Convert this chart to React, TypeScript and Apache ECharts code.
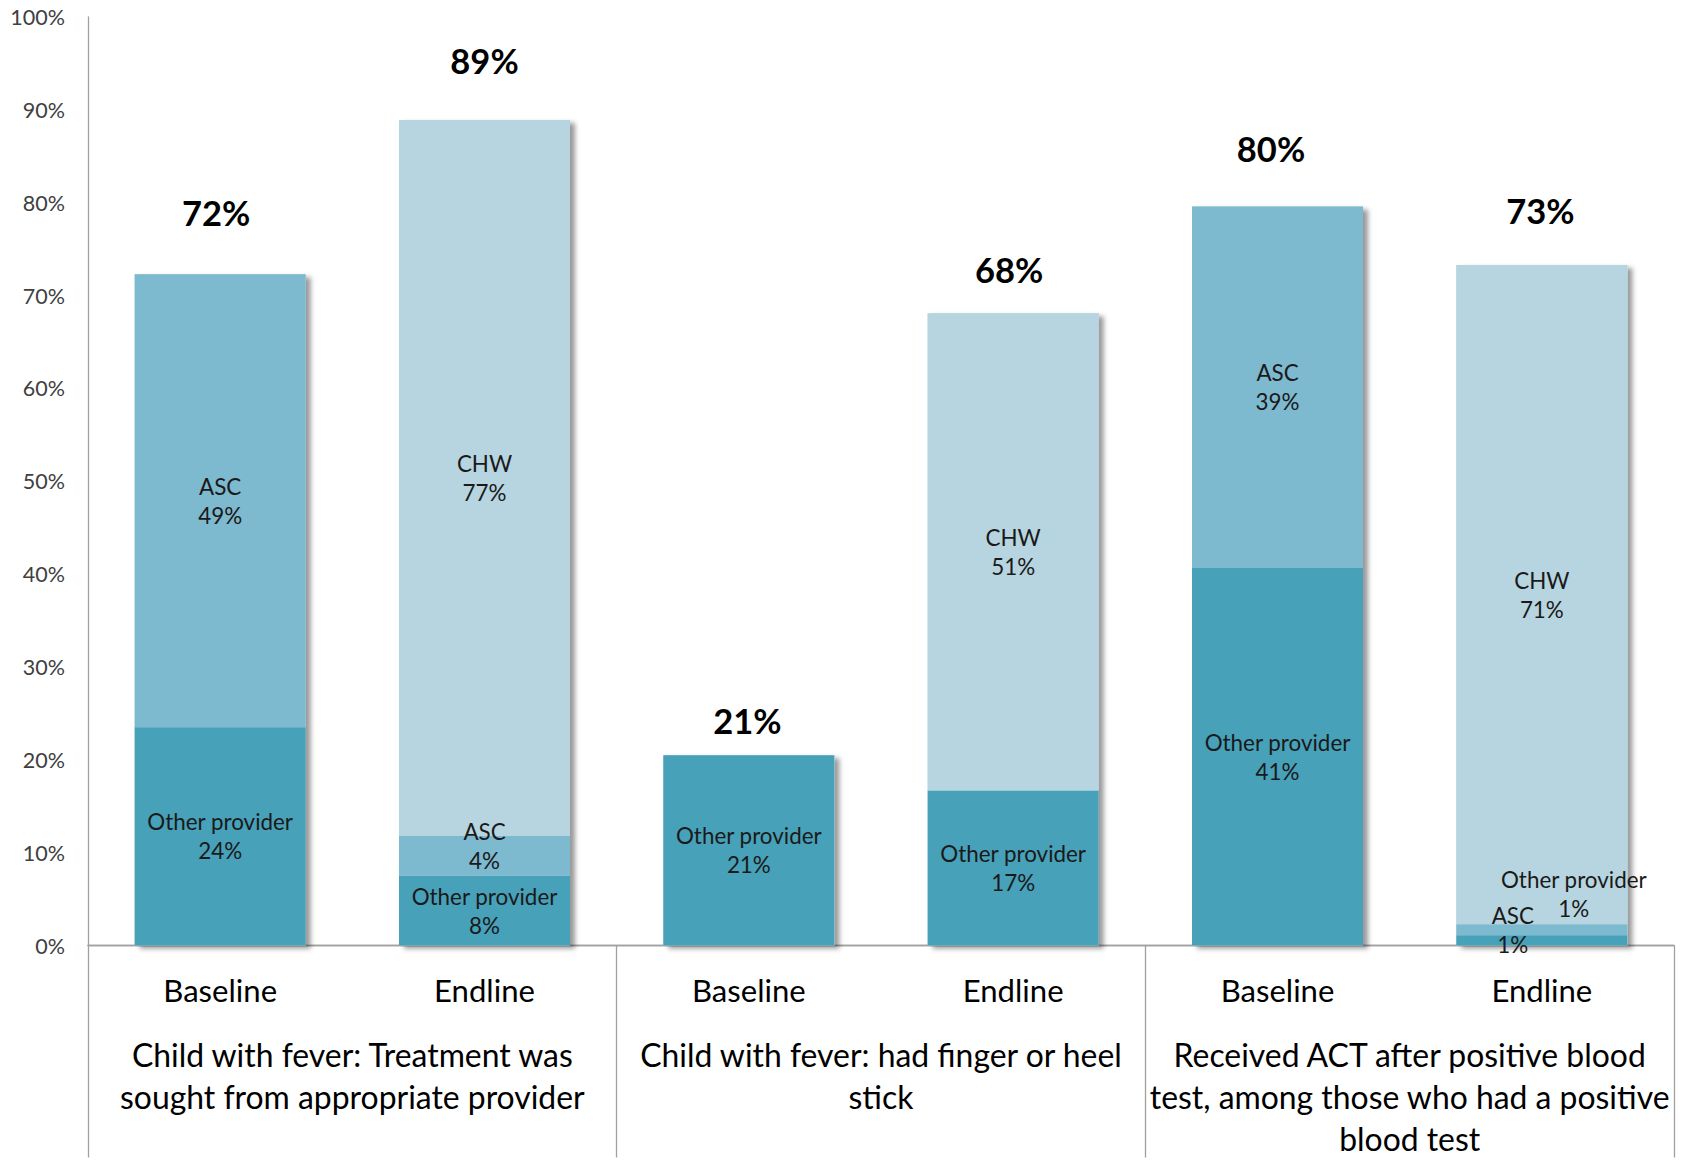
import React, { useEffect, useRef } from "react";
import * as echarts from "echarts";

const periods = ["Baseline", "Endline", "Baseline", "Endline", "Baseline", "Endline"];
const groups = [
  "Child with fever: Treatment was sought from appropriate provider",
  "Child with fever: had finger or heel stick",
  "Received ACT after positive blood test, among those who had a positive blood test",
];
const otherProvider = [23.5, 7.5, 20.5, 16.7, 40.7, 1.1];
const asc = [48.8, 4.3, null, null, 38.9, 1.2];
const chw = [null, 77.1, null, 51.4, null, 71.0];
const yTicks = [0, 10, 20, 30, 40, 50, 60, 70, 80, 90, 100];

// layout helpers (not data)
const groupLines: Record<string, string> = {
  [groups[0]]: "Child with fever: Treatment was\nsought from appropriate provider",
  [groups[1]]: "Child with fever: had finger or heel\nstick",
  [groups[2]]: "Received ACT after positive blood\ntest, among those who had a positive\nblood test",
};
const totalOffsets = [
  [-4, -62],
  [0, -59.5],
  [-1.5, -35],
  [-4, -44],
  [-6.5, -58],
  [-1.5, -54],
];
const otherOffsets: Record<number, number[]> = { 5: [32, -46] };
const ascOffsets: Record<number, number[]> = { 1: [0, -10], 5: [-29, 0] };

const FONT = "Lato";
const C_OTHER = "#47A1B9";
const C_ASC = "#7DB9CF";
const C_CHW = "#B7D5E0";

function segData(values: (number | null)[], offsets: Record<number, number[]>) {
  return values.map((v, i) =>
    offsets[i] ? { value: v, label: { offset: offsets[i] } } : { value: v }
  );
}

export default function App() {
  const ref = useRef<HTMLDivElement>(null);
  useEffect(() => {
    if (!ref.current) return;
    const chart = echarts.init(ref.current, undefined, { renderer: "svg" });
    const totals = periods.map(
      (_, i) => (otherProvider[i] || 0) + (asc[i] || 0) + (chw[i] || 0)
    );
    const segLabel = {
      show: true,
      position: "inside",
      fontFamily: FONT,
      fontSize: 22.4,
      lineHeight: 29,
      color: "#1a1a1a",
      formatter: (p: any) => `${p.seriesName}\n${Math.round(p.value)}%`,
    };
    const axisColor = "#A0A0A0";
    chart.setOption({
      animation: false,
      backgroundColor: "#ffffff",
      grid: { left: 88, right: 22, top: 17, bottom: 220.5, containLabel: false },
      xAxis: [
        {
          type: "category",
          data: periods,
          position: "bottom",
          axisLine: { show: true, lineStyle: { color: axisColor, width: 1.3 } },
          axisTick: { show: false },
          axisLabel: {
            interval: 0,
            margin: 24,
            fontFamily: FONT,
            fontSize: 31.1,
            lineHeight: 40,
            color: "#000",
          },
        },
        {
          type: "category",
          data: groups,
          position: "bottom",
          axisLine: { show: true, lineStyle: { color: axisColor, width: 1.3 } },
          axisTick: {
            show: true,
            interval: 0,
            length: 212,
            lineStyle: { color: axisColor, width: 1.3 },
          },
          axisLabel: {
            interval: 0,
            margin: 88,
            fontFamily: FONT,
            fontSize: 31.9,
            lineHeight: 42,
            color: "#000",
            formatter: (v: string) => groupLines[v] || v,
          },
        },
      ],
      yAxis: {
        type: "value",
        min: 0,
        max: 100,
        interval: 10,
        axisLine: { show: true, lineStyle: { color: axisColor, width: 1.3 } },
        axisTick: { show: false },
        splitLine: { show: false },
        axisLabel: {
          margin: 23,
          fontFamily: FONT,
          fontSize: 21.5,
          color: "#404040",
          formatter: (v: number) => (yTicks.includes(v) ? `${v}%` : ""),
        },
      },
      series: [
        {
          name: "Total",
          type: "bar",
          barWidth: 171,
          barGap: "-100%",
          z: 1,
          data: totals.map((t, i) => ({
            value: t,
            label: { offset: totalOffsets[i] },
          })),
          itemStyle: {
            color: C_CHW,
            shadowColor: "rgba(0,0,0,0.4)",
            shadowBlur: 5,
            shadowOffsetX: 5,
            shadowOffsetY: 3,
          },
          label: {
            show: true,
            position: "top",
            distance: 0,
            verticalAlign: "middle",
            fontFamily: FONT,
            fontSize: 34.5,
            fontWeight: "bold",
            color: "#000",
            formatter: (p: any) => `${Math.round(p.value)}%`,
          },
        },
        {
          name: "Other provider",
          type: "bar",
          stack: "s",
          barWidth: 171,
          z: 2,
          data: segData(otherProvider, otherOffsets),
          itemStyle: { color: C_OTHER },
          label: segLabel,
        },
        {
          name: "ASC",
          type: "bar",
          stack: "s",
          barWidth: 171,
          z: 2,
          data: segData(asc, ascOffsets),
          itemStyle: { color: C_ASC },
          label: segLabel,
        },
        {
          name: "CHW",
          type: "bar",
          stack: "s",
          barWidth: 171,
          z: 2,
          data: segData(chw, {}),
          itemStyle: { color: C_CHW },
          label: segLabel,
        },
      ],
    });
    return () => chart.dispose();
  }, []);
  return (
    <div
      ref={ref}
      style={{ position: "absolute", left: 0, top: 0, width: 1696, height: 1166 }}
    />
  );
}
